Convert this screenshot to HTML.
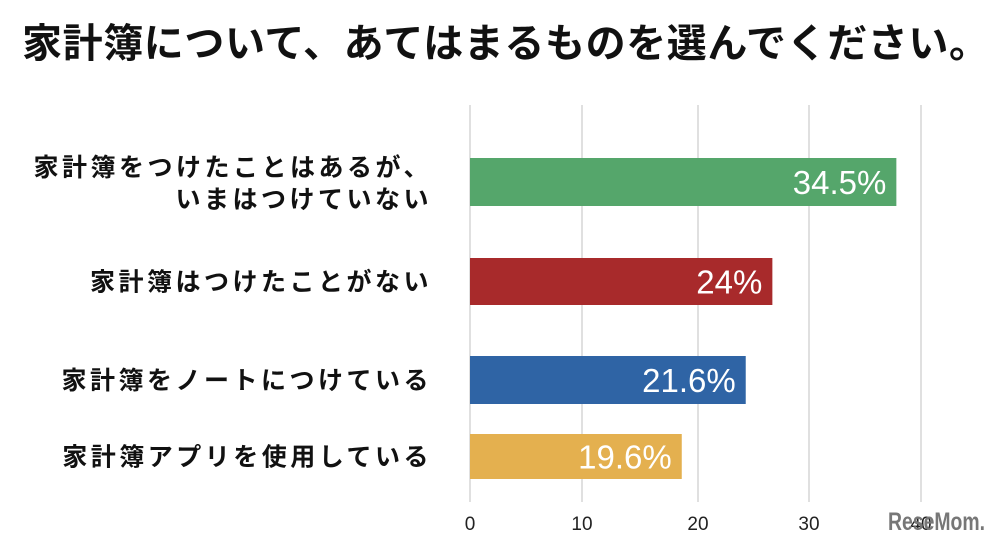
<!DOCTYPE html>
<html><head><meta charset="utf-8"><style>
body{margin:0;width:1000px;height:541px;background:#fff;overflow:hidden;font-family:"Liberation Sans","Noto Sans CJK JP",sans-serif}
#title{position:absolute;left:22px;top:11px;font-size:40px;letter-spacing:0.6px;font-weight:bold;white-space:nowrap;color:#111;font-family:"Noto Sans CJK JP",sans-serif}
</style></head><body>
<div id="title">家計簿について、あてはまるものを選んでください。</div>
<svg id="chart" width="1000" height="541" style="position:absolute;left:0;top:0"></svg>
<script>
const categories=[["家計簿をつけたことはあるが、","いまはつけていない"],["家計簿はつけたことがない"],["家計簿をノートにつけている"],["家計簿アプリを使用している"]];
const barValues=[37.8,26.7,24.3,18.6];
const valueLabels=["34.5%","24%","21.6%","19.6%"];
const colors=["#55a66b","#a82a2b","#2f64a5","#e4b04f"];
const ticks=[0,10,20,30,40];
const tickPos=[470,582,698,809,921];
const ns="http://www.w3.org/2000/svg",svg=document.getElementById('chart');
function x(v){const i=Math.min(3,Math.max(0,Math.floor(v/10)));return tickPos[i]+(tickPos[i+1]-tickPos[i])*(v-ticks[i])/10;}
const bandTop=[158,258,356,434],bandH=[48,47,48,45];
function mk(t,a,txt){const e=document.createElementNS(ns,t);for(const k in a)e.setAttribute(k,a[k]);if(txt!==undefined)e.textContent=txt;svg.appendChild(e);return e;}
ticks.forEach((t,i)=>{
 const g=mk('line',{x1:x(t),x2:x(t),y1:105,y2:502,stroke:'#cfcfcf','stroke-width':1.3});
 
 
 const l=mk('text',{x:x(t),y:530,'text-anchor':'middle','font-size':19,fill:'#222'},String(t));
 
 
});
barValues.forEach((v,i)=>{
 const r=mk('rect',{x:x(0),y:bandTop[i],width:x(v)-x(0),height:bandH[i],fill:colors[i]});
 
 
 const t=mk('text',{x:x(v)-10,y:bandTop[i]+bandH[i]/2+12,'text-anchor':'end','font-size':33,fill:'#fff','font-weight':300},valueLabels[i]);
 
 
 const lines=categories[i];
 lines.forEach((s,j)=>{
  const yy=lines.length==1?bandTop[i]+bandH[i]/2+9:bandTop[i]+bandH[i]/2-6+j*32;
  const c=mk('text',{x:432,y:yy,'text-anchor':'end','font-size':25,'font-weight':'bold','letter-spacing':3.5,fill:'#111','font-family':'"Noto Sans CJK JP",sans-serif'},s);
  
  
 });
});
const logo=mk('text',{x:888,y:530,'font-size':25,'font-weight':'bold',fill:'#777',textLength:97,lengthAdjust:'spacingAndGlyphs'},'ReseMom.');


</script>
</body></html>
